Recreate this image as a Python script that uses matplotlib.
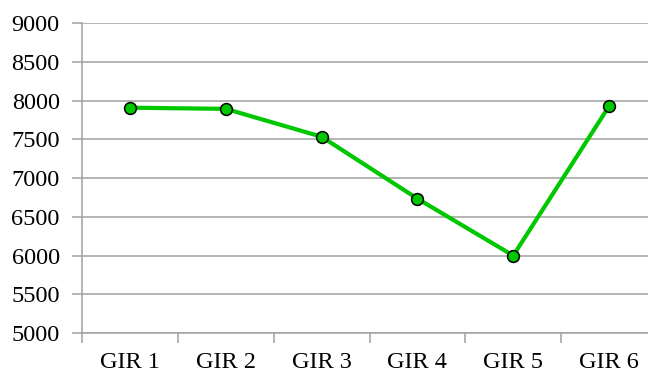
import matplotlib
matplotlib.use("Agg")
import matplotlib.pyplot as plt
import numpy as np

categories = ["GIR 1", "GIR 2", "GIR 3", "GIR 4", "GIR 5", "GIR 6"]
values = [7910, 7895, 7535, 6735, 6000, 7930]
yticks = [5000, 5500, 6000, 6500, 7000, 7500, 8000, 8500, 9000]

plt.rcParams['font.family'] = ['Liberation Serif', 'DejaVu Serif']

fig = plt.figure(figsize=(6.48, 3.72), dpi=100)
ax = fig.add_axes([82/648, 39/372, (657-82)/648, (333-23.3)/372])

x = np.arange(len(categories))
grid_c = '#a0a0a0'
for y in yticks:
    ax.axhline(y, color=grid_c, lw=1.1, zorder=1)

ax.plot(x, values, color='#00c800', lw=3, marker='o', markersize=8.5,
        markerfacecolor='#00c800', markeredgecolor='black', markeredgewidth=1.1, zorder=3,
        clip_on=False)

ax.set_ylim(5000, 9000)
ax.set_xlim(-0.5, len(categories) - 0.5)
ax.set_yticks(yticks)
ax.set_yticklabels([str(v) for v in yticks], fontsize=17.5)
ax.set_xticks(np.arange(len(categories) + 1) - 0.5)
ax.set_xticklabels([])
ax.set_xticks(x, minor=True)
ax.set_xticklabels(categories, minor=True, fontsize=17.5)
ax.tick_params(axis='x', which='minor', length=0, pad=14)
ax.tick_params(axis='x', which='major', length=7, color=grid_c, width=1.1)
ax.tick_params(axis='y', length=7, color=grid_c, width=1.1, pad=9)

for s in ['top', 'right']:
    ax.spines[s].set_visible(False)
for s in ['left', 'bottom']:
    ax.spines[s].set_color(grid_c)
    ax.spines[s].set_linewidth(1.1)

fig.savefig('out.png', dpi=100)
